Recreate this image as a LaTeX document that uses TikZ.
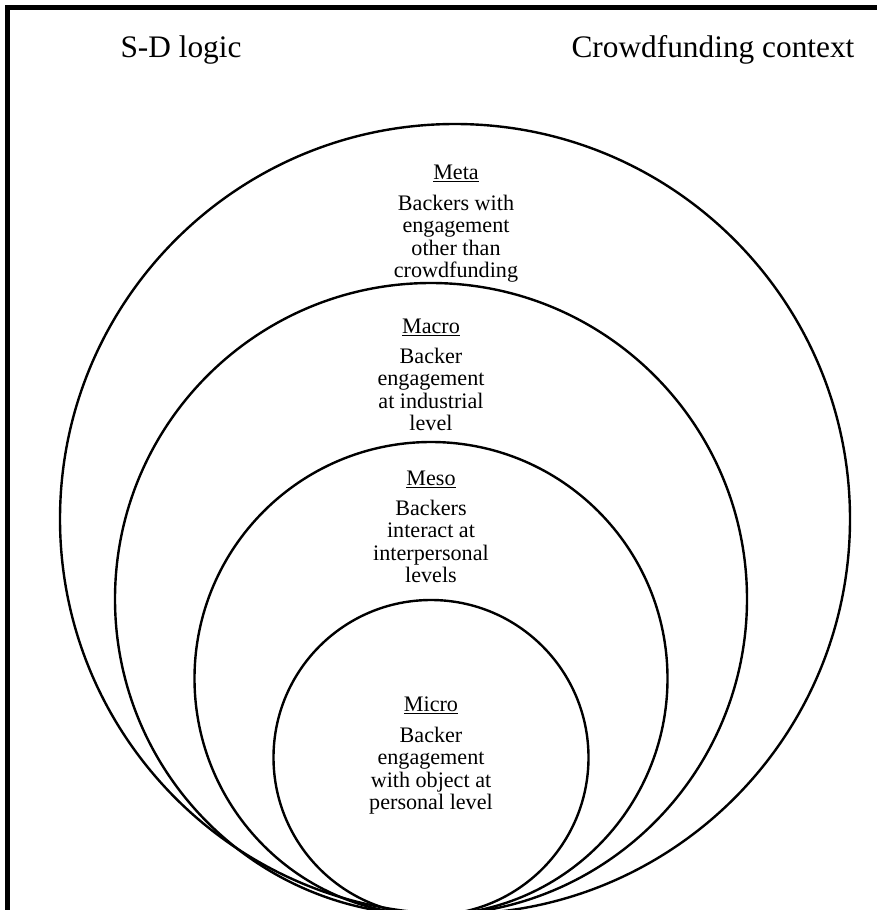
\documentclass[tikz,border=0pt]{standalone}
\usepackage{fontspec}
\setmainfont{Liberation Serif}
\begin{document}
\begin{tikzpicture}[x=0.75pt,y=-0.75pt,
  ring/.style={draw=black, line width=1.8pt},
  frameline/.style={line width=3.4pt, line cap=rect},
  title/.style={font=\fontsize{23.5}{28}\selectfont, inner sep=0pt, anchor=base},
  level/.style={font=\fontsize{16.6}{16.7}\selectfont, inner sep=0pt, anchor=base},
  desc/.style={font=\fontsize{16.6}{16.7}\selectfont, inner sep=0pt, anchor=north, align=center},
]
\useasboundingbox (0,0) rectangle (877,910);
\clip (0,0) rectangle (877,910);
\fill[white] (0,0) rectangle (877,910);

% open frame: left and top edges
\coordinate (fbl) at (7.5,920);
\coordinate (ftl) at (7.5,7.5);
\coordinate (ftr) at (885,7.5);
\draw[frameline] (fbl) -- (ftl) -- (ftr);

% column titles
\node[title] (sdl) at (181,57) {S-D logic};
\node[title] (ctx) at (713,57) {Crowdfunding context};

% nested levels, all touching at the bottom
\coordinate (metaC)  at (455,519);
\coordinate (macroC) at (431,599);
\coordinate (mesoC)  at (431,678.5);
\coordinate (microC) at (431,757.5);
\draw[ring] (metaC)  circle[radius=395];
\draw[ring] (macroC) circle[radius=316];
\draw[ring] (mesoC)  circle[radius=236.5];
\draw[ring] (microC) circle[radius=157.5];

% level labels
\node[level] (metaH) at (456,179) {\underline{Meta}};
\node[desc]  (metaT) at (456,195) {Backers with\\engagement\\other than\\crowdfunding};

\node[level] (macroH) at (431,333) {\underline{Macro}};
\node[desc]  (macroT) at (431,348) {Backer\\engagement\\at industrial\\level};

\node[level] (mesoH) at (431,485) {\underline{Meso}};
\node[desc]  (mesoT) at (431,500) {Backers\\interact at\\interpersonal\\levels};

\node[level] (microH) at (431,711) {\underline{Micro}};
\node[desc]  (microT) at (431,727) {Backer\\engagement\\with object at\\personal level};
\end{tikzpicture}
\end{document}
